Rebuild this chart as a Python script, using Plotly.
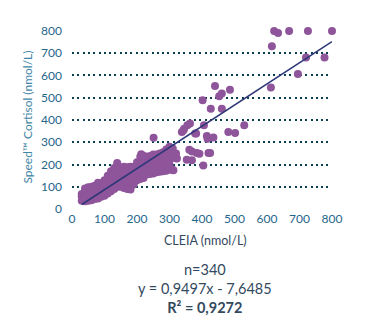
import plotly.graph_objects as go

# Method comparison: CLEIA reference vs Speed cortisol (nmol/L)
cleia = [
    # dense low/mid range
    30, 30, 30,
    40, 40, 40, 40,
    50, 50, 50, 50,
    60, 60, 60, 60,
    70, 70, 70, 70,
    80, 80, 80, 80, 80,
    90, 90, 90, 90,
    100, 100, 100, 100, 100,
    110, 110, 110, 110, 110,
    120, 120, 120, 120, 120, 120,
    130, 130, 130, 130, 130, 130,
    140, 140, 140, 140, 140, 140,
    150, 150, 150, 150, 150,
    160, 160, 160, 160, 160, 160,
    170, 170, 170, 170, 170, 170,
    180, 180, 180, 180, 180, 180,
    190, 190, 190, 190, 190,
    200, 200, 200, 200, 200,
    210, 210, 210, 210, 210, 210,
    220, 220, 220, 220, 220, 220,
    230, 230, 230, 230, 230,
    240, 240, 240, 240, 240,
    250, 250, 250, 250, 250,
    260, 260, 260, 260, 260,
    270, 270, 270, 270, 270,
    280, 280, 280, 280, 280,
    290, 290, 290, 290, 290,
    300, 300, 300, 300, 300,
    310, 310, 310, 310,
    320, 320,
    # scattered points
    139, 213, 251, 297, 312, 292, 323,
    338, 345, 355, 343, 363, 382, 379, 404, 406, 415, 417, 435,
    353, 369, 361, 369, 384, 392, 420, 425,
    402, 427, 453, 461, 440, 486, 461,
    481, 502, 530,
    612, 695, 720, 777, 615,
    622, 634, 668, 726, 800,
]
speed = [
    38, 58, 68,
    35, 55, 75, 92,
    38, 58, 78, 98,
    40, 60, 80, 100,
    45, 65, 85, 105,
    48, 68, 88, 108, 118,
    55, 75, 95, 115,
    60, 80, 100, 120, 130,
    70, 90, 110, 130, 150,
    80, 100, 120, 140, 160, 170,
    90, 110, 130, 150, 170, 185,
    100, 120, 140, 160, 180, 200,
    100, 120, 140, 160, 180,
    95, 115, 135, 155, 175, 190,
    90, 110, 130, 150, 170, 188,
    88, 108, 128, 148, 168, 190,
    110, 130, 150, 170, 190,
    130, 150, 170, 190, 210,
    135, 155, 175, 195, 215, 235,
    140, 160, 180, 200, 220, 240,
    155, 175, 195, 215, 235,
    158, 178, 198, 218, 238,
    160, 180, 200, 220, 245,
    165, 185, 205, 225, 245,
    168, 188, 208, 228, 250,
    170, 190, 210, 230, 255,
    172, 195, 215, 240, 268,
    178, 200, 225, 250, 280,
    175, 230, 255, 272,
    228, 250,
    207, 246, 320, 271, 174, 234, 227,
    346, 361, 376, 354, 384, 339, 339, 196, 376, 328, 316, 321,
    222, 219, 267, 259, 252, 249, 252, 252,
    489, 451, 507, 519, 553, 536, 451,
    346, 342, 376,
    546, 607, 680, 680, 731,
    799, 791, 799, 799, 799,
]

n_samples = 340
slope = 0.9497
intercept = -7.6485
r_squared = 0.9272
fit_x = [30, 800]
fit_y = [slope * v + intercept for v in fit_x]

purple = "#8f559b"
navy = "#2e3878"
grid_col = "#0a4050"
tick_col = "#25678a"
text_col = "#33495e"
font_family = "Lato, 'Open Sans', sans-serif"

fig = go.Figure()
fig.add_trace(go.Scatter(
    x=cleia, y=speed, mode="markers",
    marker=dict(color=purple, size=8, line=dict(width=0)),
    cliponaxis=False, hoverinfo="skip", showlegend=False,
))
fig.add_trace(go.Scatter(
    x=fit_x, y=fit_y, mode="lines",
    line=dict(color=navy, width=1.6),
    cliponaxis=False, hoverinfo="skip", showlegend=False,
))

stats_text = (
    f"n={n_samples}<br>"
    + f"y = {slope:.4f}x - {abs(intercept):.4f}".replace(".", ",")
    + "<br>"
    + f"<b>R² = {r_squared:.4f}</b>".replace(".", ",")
)

fig.update_layout(
    width=388, height=327,
    margin=dict(l=71.5, r=55.7, t=29.8, b=117.4),
    paper_bgcolor="white", plot_bgcolor="white",
    font=dict(family=font_family, size=12, color=tick_col),
    xaxis=dict(
        range=[0, 800], tickvals=list(range(0, 801, 100)),
        showgrid=False, zeroline=False, showline=False, ticks="",
        tickfont=dict(size=12, color=tick_col),
    ),
    yaxis=dict(
        range=[-4, 804], tickvals=list(range(0, 801, 100)),
        showgrid=True, gridcolor=grid_col, gridwidth=2, griddash="2px,3.3px",
        zeroline=False, showline=False, ticks="",
        ticklabelstandoff=9,
        tickfont=dict(size=12, color=tick_col),
    ),
    annotations=[
        dict(text="Speed™ Cortisol (nmol/L)", textangle=-90,
             xref="paper", yref="paper", x=-0.172, y=0.515,
             xanchor="center", yanchor="middle", showarrow=False,
             font=dict(size=12, color="#3f86a6")),
        dict(text="CLEIA (nmol/L)",
             xref="paper", yref="paper", x=0.512, y=-0.169,
             xanchor="center", yanchor="middle", showarrow=False,
             font=dict(size=12.5, color=text_col)),
        dict(text=stats_text, align="center",
             xref="paper", yref="paper", x=0.512, y=-0.436,
             xanchor="center", yanchor="middle", showarrow=False,
             font=dict(size=14.5, color=text_col)),
    ],
)

fig.write_html("out.html")
